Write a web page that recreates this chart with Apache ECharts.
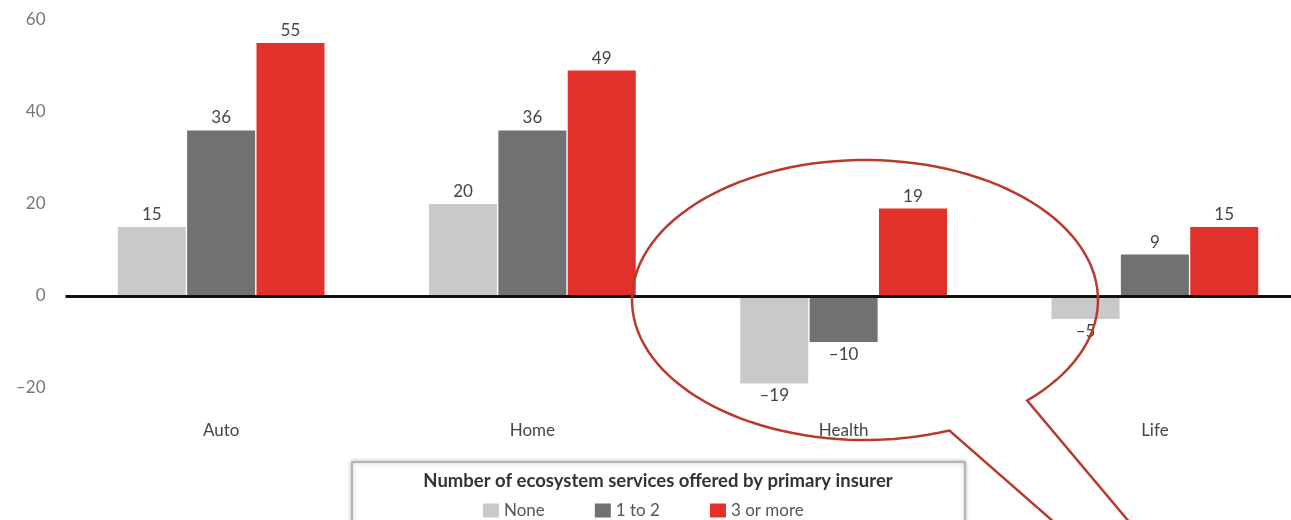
<!DOCTYPE html>
<html>
<head>
<meta charset="utf-8">
<script src="https://cdn.jsdelivr.net/npm/echarts@6/dist/echarts.min.js"></script>
<style>
  html, body { margin: 0; padding: 0; background: #fff; }
  #main { width: 1291px; height: 520px; }
</style>
</head>
<body>
<div id="main"></div>
<script>
const categories = ['Auto', 'Home', 'Health', 'Life']
const seriesNames = ['None', '1 to 2', '3 or more']
const noneValues = [15, 20, -19, -5]
const oneToTwoValues = [36, 36, -10, 9]
const threePlusValues = [55, 49, 19, 15]
const yTicks = [-20, 0, 20, 40, 60]
const legendTitle = 'Number of ecosystem services offered by primary insurer'

const colors = ['#c8c9cb', '#6f7173', '#e1312a']
const dash = (v) => String(v).replace('-', '\u2013')

function makeData(values) {
  return values.map(v => (v < 0 ? { value: v, label: { position: 'bottom' } } : v))
}

function makeSeries(name, values, i) {
  const s = {
    name: name,
    type: 'bar',
    data: makeData(values),
    barWidth: 68,
    barGap: '2%',
    itemStyle: { color: colors[i] },
    label: {
      show: true,
      position: 'top',
      distance: 4,
      color: '#444',
      fontSize: 17,
      fontFamily: 'Lato',
      formatter: (p) => dash(p.value)
    }
  }
  if (i === 0) {
    s.markLine = {
      silent: true,
      symbol: 'none',
      label: { show: false },
      lineStyle: { color: '#111', width: 3, type: 'solid' },
      data: [{ yAxis: 0 }]
    }
  }
  return s
}

// callout bubble drawn round the Health/Life area (pixel annotation)
function calloutPoints() {
  const cx = 865, cy = 300, rx = 233, ry = 140
  const pts = [[1063, 530]]
  const t0 = Math.atan2((436 - cy) / ry, (953 - cx) / rx)
  const t1 = Math.atan2((401 - cy) / ry, (1028 - cx) / rx) + Math.PI * 2
  const steps = 120
  for (let k = 0; k <= steps; k++) {
    const t = t0 + (t1 - t0) * k / steps
    pts.push([cx + rx * Math.cos(t), cy + ry * Math.sin(t)])
  }
  pts.push([1136, 530])
  return pts
}

const chart = echarts.init(document.getElementById('main'))
chart.setOption({
  animation: false,
  textStyle: { fontFamily: 'Lato' },
  grid: { left: 65.5, top: 20, right: -19.5, bottom: 132, outerBoundsMode: 'none' },
  legend: {
    data: seriesNames,
    left: 478,
    top: 497,
    itemWidth: 16,
    itemHeight: 14,
    itemGap: 50,
    icon: 'rect',
    textStyle: { color: '#555', fontSize: 17, fontFamily: 'Lato' }
  },
  xAxis: {
    type: 'category',
    data: categories,
    axisLine: { show: false, onZero: false },
    axisTick: { show: false },
    axisLabel: { margin: 34, color: '#444', fontSize: 17 }
  },
  yAxis: {
    type: 'value',
    min: yTicks[0],
    max: yTicks[yTicks.length - 1],
    interval: 20,
    axisLine: { show: false },
    axisTick: { show: false },
    splitLine: { show: false },
    axisLabel: { margin: 20, color: '#777', fontSize: 17, formatter: dash }
  },
  graphic: [
    {
      type: 'rect',
      x: 352,
      y: 462,
      z: 0,
      shape: { x: 0, y: 0, width: 613, height: 80 },
      style: {
        fill: '#fff',
        stroke: '#b5b5b5',
        lineWidth: 2,
        shadowBlur: 4,
        shadowColor: 'rgba(0,0,0,0.25)'
      }
    },
    {
      type: 'text',
      x: 658,
      y: 481,
      z: 1,
      style: {
        text: legendTitle,
        align: 'center',
        verticalAlign: 'middle',
        fill: '#333',
        font: 'bold 18.5px Lato'
      }
    },
    {
      type: 'polyline',
      z: 50,
      shape: { points: calloutPoints() },
      style: { fill: null, stroke: '#b83a2c', lineWidth: 2.5 }
    }
  ],
  series: [
    makeSeries(seriesNames[0], noneValues, 0),
    makeSeries(seriesNames[1], oneToTwoValues, 1),
    makeSeries(seriesNames[2], threePlusValues, 2)
  ]
})
</script>
</body>
</html>
